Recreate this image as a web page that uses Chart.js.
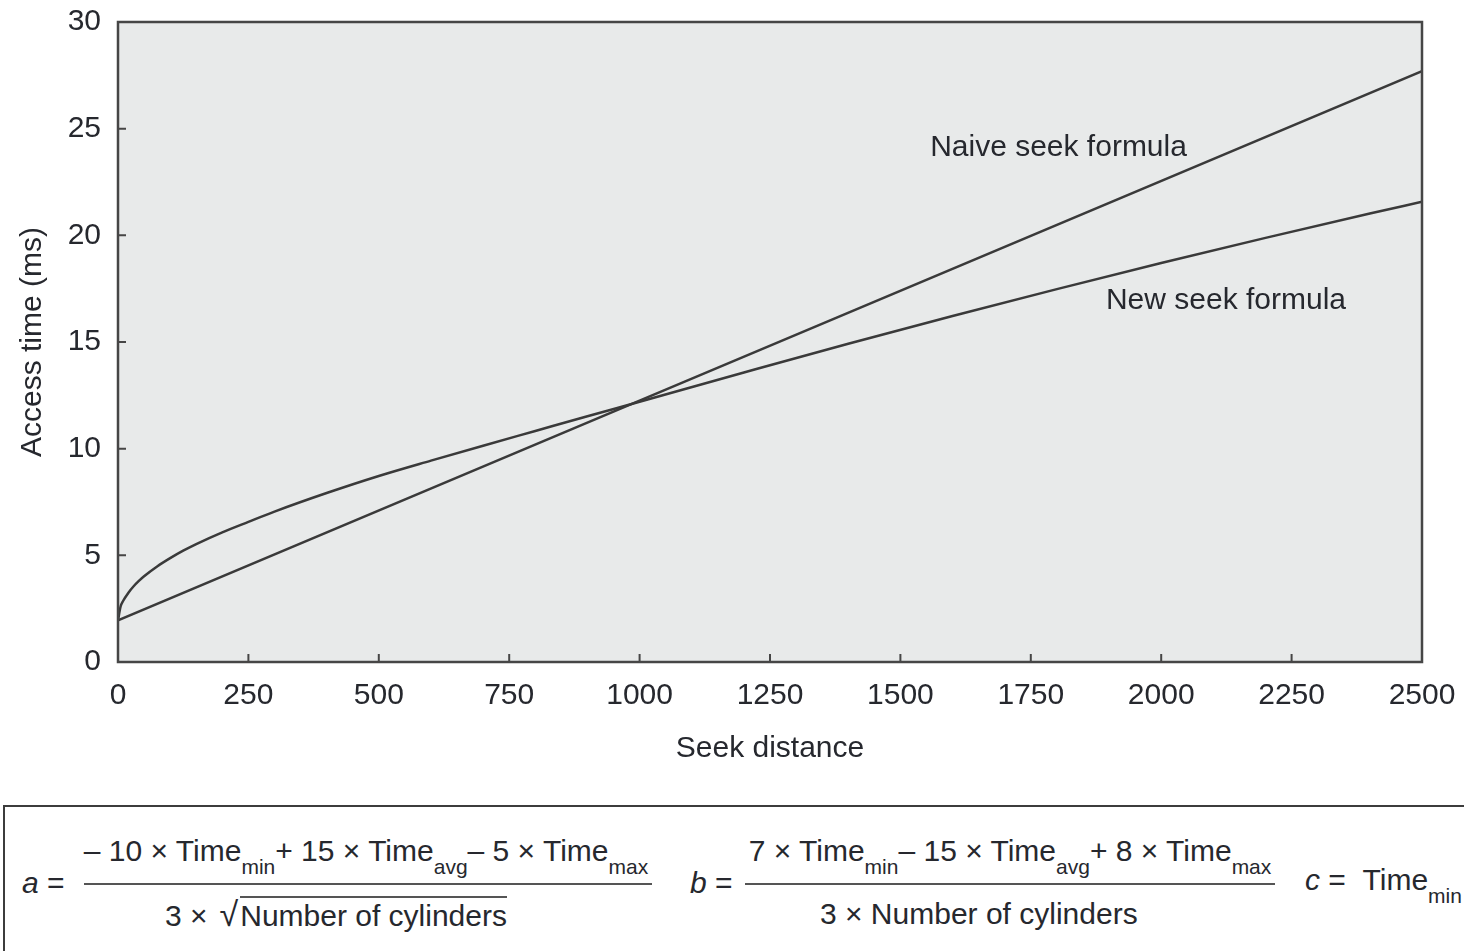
<!DOCTYPE html>
<html>
<head>
<meta charset="utf-8">
<script src="https://cdn.jsdelivr.net/npm/chart.js@4.4.1/dist/chart.umd.min.js"></script>
<style>
  html, body { margin: 0; padding: 0; background: #fff; overflow: hidden; }
  body { width: 1464px; height: 951px; position: relative; font-family: "Liberation Sans", Arial, sans-serif; color: #26282e; }
  #wrap { position: absolute; left: 0; top: 0; width: 1464px; height: 790px; }
  #box { position: absolute; left: 3px; top: 805px; width: 1500px; height: 220px; border: 2px solid #3c3c3c; box-sizing: border-box; }
  .f { position: absolute; font-size: 30px; line-height: 32px; white-space: nowrap; }
  .sub { font-size: 21px; position: relative; top: 13px; }
  .bar { position: absolute; height: 0; border-top: 2.5px solid #555; }
  .ctr { text-align: center; }
  .over { border-top: 2px solid #555; padding-top: 1px; }
  .rad { font-size: 34px; margin-left: 12px; margin-right: 2px; }
</style>
</head>
<body>
<div id="wrap"><canvas id="chart" width="1464" height="790"></canvas></div>

<div id="box"></div>
<div class="f" style="left:22px; top:867px;"><i>a</i> =</div>
<div class="f ctr" style="left:70px; top:835px; width:592px;">– 10 × Time<span class="sub">min</span>+ 15 × Time<span class="sub">avg</span>– 5 × Time<span class="sub">max</span></div>
<div class="bar" style="left:84px; top:883px; width:568px;"></div>
<div class="f" style="left:165px; top:898px;">3 ×<span class="rad">√</span><span class="over">Number of cylinders</span></div>

<div class="f" style="left:690px; top:867px;"><i>b</i> =</div>
<div class="f ctr" style="left:735px; top:835px; width:550px;">7 × Time<span class="sub">min</span>– 15 × Time<span class="sub">avg</span>+ 8 × Time<span class="sub">max</span></div>
<div class="bar" style="left:745px; top:883px; width:530px;"></div>
<div class="f" style="left:820px; top:898px;">3 × Number of cylinders</div>

<div class="f" style="left:1305px; top:864px;"><i>c</i> = &nbsp;Time<span class="sub">min</span></div>

<script>
// seek distance (cylinders) and access time (ms)
const seekDistance = [0, 5, 10, 20, 30, 40, 50, 75, 100, 125, 150, 200, 250, 300, 400, 500, 600, 700, 800, 900, 1000, 1200, 1400, 1600, 1800, 2000, 2200, 2400, 2500];
const newSeekTime  = [1.95, 2.6, 2.87, 3.25, 3.55, 3.8, 4.02, 4.48, 4.87, 5.22, 5.53, 6.08, 6.57, 7.05, 7.92, 8.72, 9.44, 10.14, 10.83, 11.52, 12.2, 13.57, 14.92, 16.22, 17.48, 18.7, 19.88, 21.02, 21.57];
const naiveDistance = [0, 1000, 2500];
const naiveSeekTime = [1.95, 12.25, 27.7];

const xTicks = [0, 250, 500, 750, 1000, 1250, 1500, 1750, 2000, 2250, 2500];
const yTicks = [0, 5, 10, 15, 20, 25, 30];

// curve labels: [text, seek distance, access time]
const curveLabels = [
  ['Naive seek formula', 1557, 24.1],
  ['New seek formula', 1894, 16.95]
];

const ink = '#26282e';
const lineColor = '#3a3a3a';
const frameColor = '#464646';
const plotBg = '#e8eaea';
const fontFamily = '"Liberation Sans", Arial, sans-serif';
const font = { family: fontFamily, size: 30 };

const toPoints = (xs, ys) => xs.map((x, i) => ({ x: x, y: ys[i] }));

const framePlugin = {
  id: 'frame',
  beforeDraw(chart) {
    const { ctx, chartArea: a } = chart;
    ctx.save();
    ctx.fillStyle = plotBg;
    ctx.fillRect(a.left, a.top, a.right - a.left, a.bottom - a.top);
    ctx.restore();
  },
  afterDraw(chart) {
    const { ctx, chartArea: a, scales } = chart;
    ctx.save();
    ctx.strokeStyle = frameColor;
    ctx.lineWidth = 2.5;
    ctx.strokeRect(a.left, a.top, a.right - a.left, a.bottom - a.top);

    // inward tick marks
    ctx.lineWidth = 2;
    ctx.beginPath();
    xTicks.slice(1, -1).forEach(v => {
      const px = scales.x.getPixelForValue(v);
      ctx.moveTo(px, a.bottom);
      ctx.lineTo(px, a.bottom - 8);
    });
    yTicks.slice(1, -1).forEach(v => {
      const py = scales.y.getPixelForValue(v);
      ctx.moveTo(a.left, py);
      ctx.lineTo(a.left + 8, py);
    });
    ctx.stroke();

    // curve labels
    ctx.fillStyle = ink;
    ctx.font = '30px ' + fontFamily;
    ctx.textAlign = 'left';
    ctx.textBaseline = 'middle';
    curveLabels.forEach(([t, x, y]) => {
      ctx.fillText(t, scales.x.getPixelForValue(x), scales.y.getPixelForValue(y));
    });
    ctx.restore();
  }
};

new Chart(document.getElementById('chart'), {
  type: 'scatter',
  data: {
    datasets: [
      {
        label: 'Naive seek formula',
        data: toPoints(naiveDistance, naiveSeekTime),
        showLine: true,
        borderColor: lineColor,
        borderWidth: 2.5,
        pointRadius: 0
      },
      {
        label: 'New seek formula',
        data: toPoints(seekDistance, newSeekTime),
        showLine: true,
        cubicInterpolationMode: 'monotone',
        borderColor: lineColor,
        borderWidth: 2.5,
        pointRadius: 0
      }
    ]
  },
  options: {
    responsive: false,
    animation: false,
    layout: { padding: { left: 0, top: 22, right: 42, bottom: 0 } },
    plugins: {
      legend: { display: false },
      tooltip: { enabled: false }
    },
    scales: {
      x: {
        type: 'linear',
        min: 0,
        max: 2500,
        afterBuildTicks: s => { s.ticks = xTicks.map(v => ({ value: v })); },
        afterFit: s => { s.height = 128; },
        grid: { display: false },
        border: { display: false },
        ticks: { color: ink, font: font, padding: 8, maxRotation: 0, callback: v => String(v) },
        title: { display: true, text: 'Seek distance', color: ink, font: font, padding: { top: 0, bottom: 23 } }
      },
      y: {
        min: 0,
        max: 30,
        afterBuildTicks: s => { s.ticks = yTicks.map(v => ({ value: v })); },
        afterFit: s => { s.width = 118; },
        grid: { display: false },
        border: { display: false },
        ticks: { color: ink, font: { family: fontFamily, size: 30, lineHeight: 0.3 }, padding: 9, callback: v => String(v) },
        title: { display: true, text: 'Access time (ms)', color: ink, font: font, padding: { top: 15, bottom: 0 } }
      }
    }
  },
  plugins: [framePlugin]
});
</script>
</body>
</html>
